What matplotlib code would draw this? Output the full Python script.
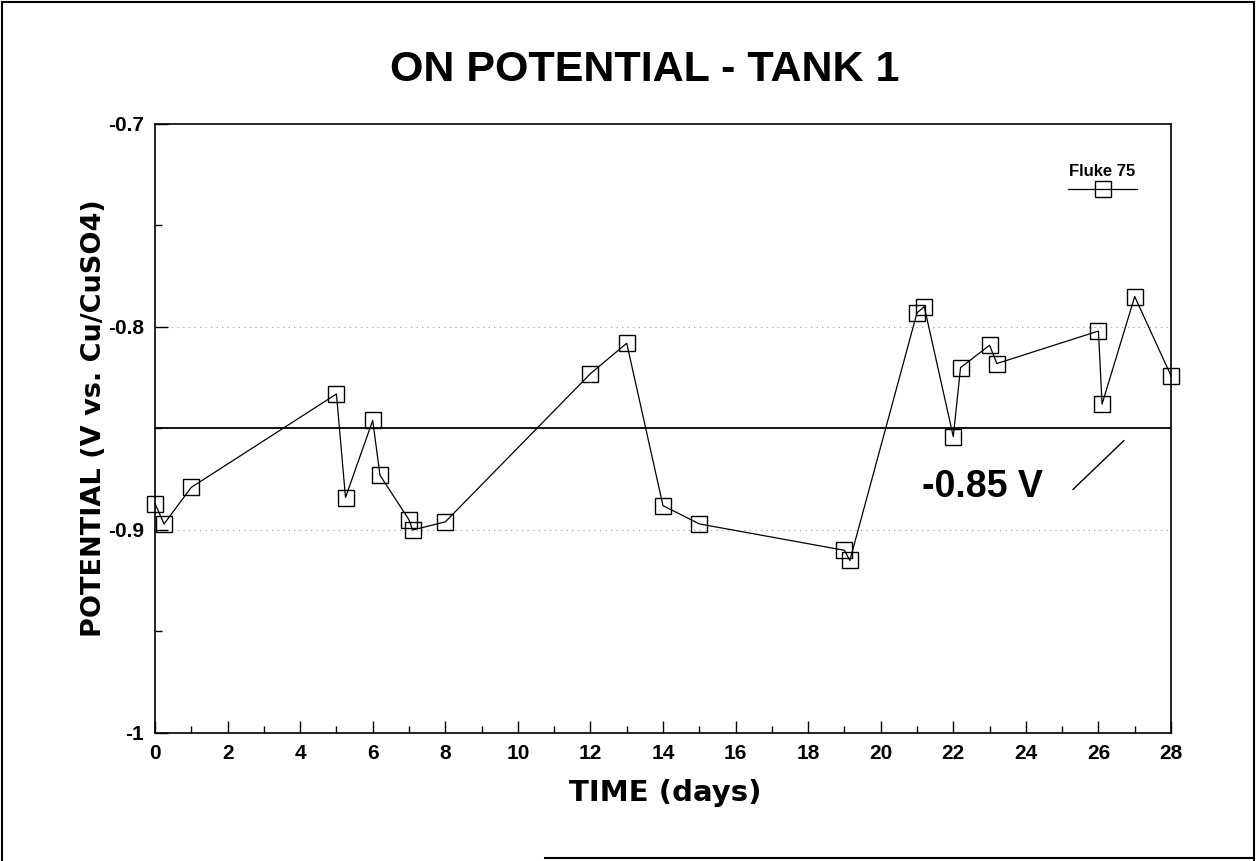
import matplotlib
matplotlib.use("Agg")
import matplotlib.pyplot as plt
from matplotlib.lines import Line2D
from matplotlib.ticker import MultipleLocator, FixedLocator, FixedFormatter

plt.rcParams['font.family'] = ['Liberation Sans', 'DejaVu Sans']

days = [0, 0.25, 1, 5, 5.25, 6, 6.2, 7, 7.1, 8, 12, 13, 14, 15, 19, 19.15,
        21, 21.2, 22, 22.2, 23, 23.2, 26, 26.1, 27, 28]
potential = [-0.887, -0.897, -0.879, -0.833, -0.884, -0.846, -0.873, -0.895,
             -0.900, -0.896, -0.823, -0.808, -0.888, -0.897, -0.910, -0.915,
             -0.793, -0.790, -0.854, -0.820, -0.809, -0.818, -0.802, -0.838,
             -0.785, -0.824]
criterion = -0.85
series_name = "Fluke 75"
x_ticks = list(range(0, 29, 2))
y_ticks = [-1.0, -0.9, -0.8, -0.7]
y_tick_labels = ["-1", "-0.9", "-0.8", "-0.7"]

fig = plt.figure(figsize=(12.57, 8.61), dpi=100)
ax = fig.add_axes([155/1257, 1-733/861, (1171-155)/1257, (733-124)/861])

ax.set_xlim(0, 28)
ax.set_ylim(-1.0, -0.7)

# dotted grid
for g in [-0.8, -0.9]:
    ax.axhline(g, color='#999999', lw=0.8, ls=(0, (1, 4)), zorder=1)

ax.axhline(criterion, color='black', lw=1.3, zorder=2)

ax.plot(days, potential, color='black', lw=0.9, marker='s', markersize=11.5,
        markerfacecolor='none', markeredgecolor='black', markeredgewidth=1.0,
        zorder=3, clip_on=False)

ax.xaxis.set_major_locator(FixedLocator(x_ticks))
ax.xaxis.set_minor_locator(MultipleLocator(1))
ax.yaxis.set_major_locator(FixedLocator(y_ticks))
ax.yaxis.set_major_formatter(FixedFormatter(y_tick_labels))
ax.yaxis.set_minor_locator(FixedLocator([-0.95, -0.85, -0.75]))
ax.tick_params(which='both', direction='in', top=False, right=False, width=1.0)
ax.tick_params(which='major', length=9, labelsize=15, pad=8)
ax.tick_params(which='minor', length=5)
for lab in ax.get_xticklabels() + ax.get_yticklabels():
    lab.set_fontweight('bold')
for s in ax.spines.values():
    s.set_linewidth(1.2)

fig.text(665/1257, 1-793/861, "TIME (days)", ha='center', va='center',
         fontsize=21, fontweight='bold', family=['DejaVu Sans'])
fig.text(94/1257, 1-418/861, "POTENTIAL (V vs. Cu/CuSO4)", ha='center', va='center',
         rotation=90, fontsize=19.5, fontweight='bold', family=['DejaVu Sans'])

fig.text(0.513, 1-70/861, "ON POTENTIAL - TANK 1", ha='center', va='center',
         fontsize=31, fontweight='bold')

# annotation
ax.text(22.8, -0.879, "-0.85 V", ha='center', va='center', fontsize=27, fontweight='bold')
ax.plot([25.3, 26.7], [-0.880, -0.856], color='black', lw=1.0)

# legend (manual)
ax.text(26.1, -0.7235, series_name, ha='center', va='center', fontsize=12, fontweight='bold')
ax.add_line(Line2D([25.15, 27.05], [-0.732, -0.732], color='black', lw=0.9))
ax.add_line(Line2D([26.12], [-0.732], marker='s', markersize=11.5, markerfacecolor='none',
                   markeredgecolor='black', markeredgewidth=1.0, ls='none'))

# outer frame
fr = dict(color='black', lw=1.5, transform=fig.transFigure)
fig.add_artist(Line2D([2/1257, 2/1257], [0, 1-2/861], **fr))
fig.add_artist(Line2D([2/1257, 1-3/1257], [1-2/861, 1-2/861], **fr))
fig.add_artist(Line2D([1-3/1257, 1-3/1257], [0, 1-2/861], **fr))
fig.add_artist(Line2D([545/1257, 1-3/1257], [3/861, 3/861], **fr))

fig.savefig("out.png", dpi=100)
